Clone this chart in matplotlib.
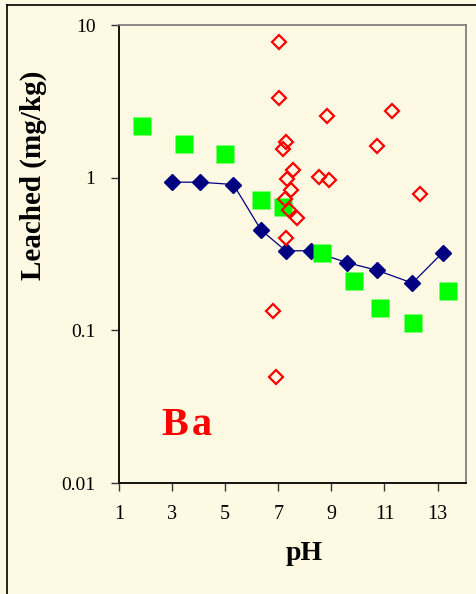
import matplotlib
matplotlib.use("Agg")
import matplotlib.pyplot as plt
from matplotlib.lines import Line2D
from matplotlib.ticker import FixedLocator, FixedFormatter, NullLocator

# ---- data ----
blue_ph = [3.01, 4.05, 5.31, 6.35, 7.28, 8.23, 9.58, 10.73, 12.05, 13.19]
blue_val = [0.934, 0.934, 0.902, 0.454, 0.332, 0.332, 0.278, 0.247, 0.204, 0.323]

green_ph = [1.85, 3.46, 5.0, 6.34, 7.19, 8.63, 9.86, 10.83, 12.06, 13.4]
green_val = [2.19, 1.67, 1.43, 0.717, 0.640, 0.322, 0.211, 0.140, 0.111, 0.182]

red_ph = [7.01, 7.01, 8.82, 11.29, 7.29, 7.16, 10.72, 7.57, 7.32, 8.52,
          8.92, 7.47, 12.35, 7.25, 7.39, 7.69, 7.29, 6.81, 6.91]
red_val = [7.69, 3.32, 2.54, 2.75, 1.72, 1.55, 1.61, 1.13, 0.98, 1.017,
           0.971, 0.832, 0.777, 0.730, 0.612, 0.542, 0.405, 0.1346, 0.0495]

x_ticks = [1, 3, 5, 7, 9, 11, 13]
x_ticklabels = ["1", "3", "5", "7", "9", "11", "13"]
y_ticks = [0.01, 0.1, 1, 10]
y_ticklabels = ["0.01", "0.1", "1", "10"]

element_label = "Ba"
x_title = "pH"
y_title = "Leached (mg/kg)"

# ---- figure ----
bg = "#FEF9E2"
W, H = 477, 594
fig = plt.figure(figsize=(W / 100, H / 100), dpi=100, facecolor=bg)
plt.rcParams["font.family"] = ["Liberation Serif", "DejaVu Serif"]

L, R, T, B = 119, 466, 25, 483
ax = fig.add_axes([L / W, (H - B) / H, (R - L) / W, (B - T) / H])
ax.set_facecolor(bg)

ax.plot(blue_ph, blue_val, color="#000080", lw=0.9, marker="D", ms=8.5,
        mfc="#000080", mec="#000080", zorder=3)
ax.plot(green_ph, green_val, ls="none", marker="s", ms=13, mfc="#00FF00",
        mec="none", zorder=4)
ax.plot(red_ph, red_val, ls="none", marker="D", ms=7.5, mfc="none",
        mec="#FF0000", mew=1.6, zorder=5)

ax.set_yscale("log")
ax.set_xlim(1, 14.07)
ax.set_ylim(0.01, 10)

ax.xaxis.set_major_locator(FixedLocator(x_ticks))
ax.xaxis.set_major_formatter(FixedFormatter(x_ticklabels))
ax.yaxis.set_major_locator(FixedLocator(y_ticks))
ax.yaxis.set_major_formatter(FixedFormatter(y_ticklabels))
ax.yaxis.set_minor_locator(NullLocator())
ax.xaxis.set_minor_locator(NullLocator())

ax.tick_params(axis="x", direction="out", length=6, width=1, color="#333333",
               labelsize=14.5, pad=10, labelcolor="black")
ax.tick_params(axis="y", direction="out", length=6, width=1, color="#333333",
               labelsize=14, pad=11, labelcolor="black")

for s in ("left", "bottom"):
    ax.spines[s].set_color("black")
    ax.spines[s].set_linewidth(1.3)
for s in ("top", "right"):
    ax.spines[s].set_color("#808080")
    ax.spines[s].set_linewidth(1.3)

ax.set_xlabel(x_title, fontsize=20, fontweight="bold")
ax.xaxis.set_label_coords((304 - L) / (R - L), -(560 - B) / (B - T), transform=ax.transAxes)
ax.xaxis.label.set_va("baseline")
ax.set_ylabel(y_title, fontsize=21, fontweight="bold")
ax.yaxis.set_label_coords((33 - L) / (R - L), (B - 175) / (B - T), transform=ax.transAxes)
ax.yaxis.label.set_va("center")

# element label, drawn with the wide letter spacing of the reference
letter_x = [161, 192]
for ch, px in zip(element_label, letter_x):
    ax.text((px - L) / (R - L), (B - 435) / (B - T), ch,
            transform=ax.transAxes, ha="left", va="baseline", fontsize=29,
            fontweight="bold", color="#FF0000")

# outer frame (top and left edges visible)
fig.add_artist(Line2D([7 / W, 7 / W], [0, 1 - 5 / H], color="black", lw=1.2,
                      transform=fig.transFigure))
fig.add_artist(Line2D([7 / W, 1], [1 - 5 / H, 1 - 5 / H], color="black", lw=1.2,
                      transform=fig.transFigure))

fig.savefig("out.png", dpi=100, facecolor=bg)
